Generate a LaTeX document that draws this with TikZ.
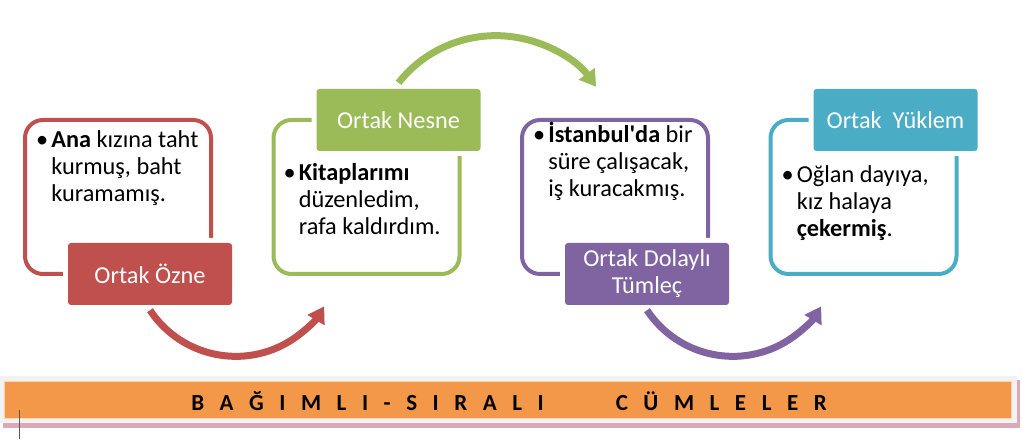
\documentclass[tikz,border=0pt]{standalone}
\usepackage{fontspec}
\setmainfont{Carlito}
\usetikzlibrary{positioning,arrows.meta}

\definecolor{ozneRed}{HTML}{C0504D}
\definecolor{nesneGreen}{HTML}{9BBB59}
\definecolor{tumlecPurple}{HTML}{8064A2}
\definecolor{yuklemBlue}{HTML}{4BACC6}
\definecolor{bannerOrange}{HTML}{F39848}
\definecolor{bannerEdge}{HTML}{FBD3AE}
\definecolor{bannerGray}{HTML}{F2F2F2}
\definecolor{bannerShadow}{HTML}{D9AAB5}

\tikzset{
  frame/.style={draw=#1, line width=4pt, rounded corners=18pt,
    minimum width=186pt, minimum height=154pt, inner sep=0pt},
  tag/.style={fill=#1, text=white, rounded corners=3pt, inner sep=0pt,
    minimum width=164pt, minimum height=62pt, align=center,
    font=\fontsize{24.3}{27}\selectfont,
    preaction={draw=white, line width=10pt}},
  item/.style={anchor=base west, inner sep=0pt,
    font=\fontsize{24.3}{26.7}\selectfont},
  turn/.style={draw=#1, line width=7pt, -{Triangle[length=16pt,width=19pt]}},
}

\newcommand{\bulletitem}[1]{\begin{tabular}[t]{@{}l@{\hspace{3pt}}l@{}}#1\end{tabular}}

\begin{document}
\begin{tikzpicture}[x=1pt, y=1pt, node distance=248.5pt, on grid]
\useasboundingbox (0,0) rectangle (1022,439);

% cerceveler
\node[frame=ozneRed] (ozne box) at (118,242) {};
\node[frame=nesneGreen] (nesne box) [right=of ozne box] {};
\node[frame=tumlecPurple] (tumlec box) [right=of nesne box] {};
\node[frame=yuklemBlue] (yuklem box) [right=of tumlec box] {};

% basliklar
\node[tag=ozneRed] (ozne) at ([shift={(32pt,-77pt)}]ozne box.center) {Ortak Özne};
\node[tag=nesneGreen] (nesne) at ([shift={(32pt,77pt)}]nesne box.center) {Ortak Nesne};
\node[tag=tumlecPurple] (tumlec) at ([shift={(32pt,-77pt)}]tumlec box.center) {Ortak Dolaylı\\Tümleç};
\node[tag=yuklemBlue] (yuklem) at ([shift={(32pt,77pt)}]yuklem box.center) {Ortak~~Yüklem};

% ornek cumleler
\node[item] (ozne text) at ([shift={(13pt,-30pt)}]ozne box.north west)
  {\bulletitem{\textbullet & \textbf{Ana} kızına taht\\ & kurmuş, baht\\ & kuramamış.}};
\node[item] (nesne text) at ([shift={(12pt,-63pt)}]nesne box.north west)
  {\bulletitem{\textbullet & \textbf{Kitaplarımı}\\ & düzenledim,\\ & rafa kaldırdım.}};
\node[item] (tumlec text) at ([shift={(13pt,-25pt)}]tumlec box.north west)
  {\bulletitem{\textbullet & \textbf{İstanbul\textquotesingle da} bir\\ & süre çalışacak,\\ & iş kuracakmış.}};
\node[item] (yuklem text) at ([shift={(13pt,-65pt)}]yuklem box.north west)
  {\bulletitem{\textbullet & Oğlan dayıya,\\ & kız halaya\\ & \textbf{çekermiş}.}};

% oklar
\draw[turn=ozneRed] ([yshift=-5pt]ozne.south) arc[start angle=213.5, end angle=329, radius=103];
\draw[turn=nesneGreen] ([yshift=6pt]nesne.north) arc[start angle=141.7, end angle=36, radius=124];
\draw[turn=tumlecPurple] ([yshift=-5pt]tumlec.south) arc[start angle=213.5, end angle=329, radius=103];

% alt serit
\fill[bannerShadow] (3,11) rectangle (1019.5,59);
\fill[bannerGray] (0,16) rectangle (1017,63);
\node[fill=bannerOrange, draw=bannerEdge, line width=1pt, minimum width=1007pt,
  minimum height=37pt, inner sep=0pt] (banner) at (507.5,39.5) {};
\node[font=\fontsize{23}{26}\selectfont\bfseries\addfontfeature{LetterSpace=45}, inner sep=0pt,
  anchor=base] (title) at (509,29) {B A Ğ I M L I - S I R A L I\hspace{72pt}C Ü M L E L E R};
\draw[black!65, line width=1pt] (19,0) -- (19,29);
\end{tikzpicture}
\end{document}
